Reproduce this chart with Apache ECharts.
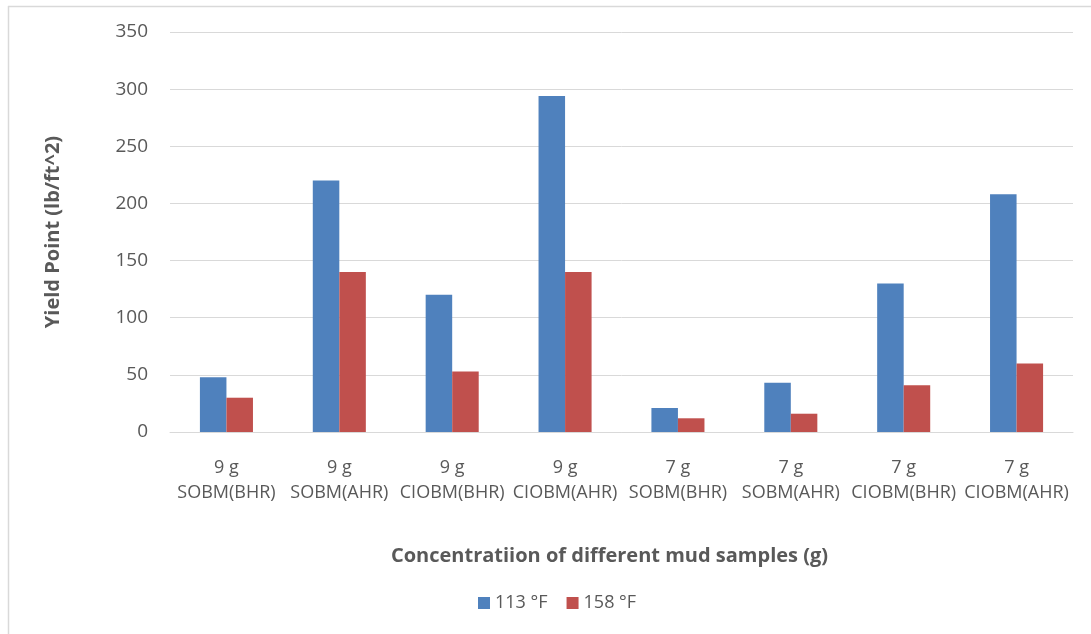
<!DOCTYPE html>
<html>
<head>
<meta charset="utf-8">
<script src="https://cdn.jsdelivr.net/npm/echarts@6/dist/echarts.min.js"></script>
<style>
html,body{margin:0;padding:0;background:#fff;}
#chart{width:1091px;height:634px;}
</style>
</head>
<body>
<div id="chart"></div>
<script>
const categories = ["9 g\nSOBM(BHR)", "9 g\nSOBM(AHR)", "9 g\nCIOBM(BHR)", "9 g\nCIOBM(AHR)", "7 g\nSOBM(BHR)", "7 g\nSOBM(AHR)", "7 g\nCIOBM(BHR)", "7 g\nCIOBM(AHR)"];
const series113 = [48, 220, 120, 294, 21, 43, 130, 208];
const series158 = [30, 140, 53, 140, 12, 16, 41, 60];
const seriesNames = ["113 °F", "158 °F"];
const yTicks = { min: 0, max: 350, interval: 50 };

const FONT = "'Open Sans', 'Liberation Sans', sans-serif";
const TXT = "#595959";
const chart = echarts.init(document.getElementById('chart'), null, { renderer: 'canvas' });
chart.setOption({
  backgroundColor: '#fff',
  animation: false,
  textStyle: { fontFamily: FONT },
  grid: { left: 170, right: 18, top: 32, bottom: 202, containLabel: false },
  legend: {
    data: seriesNames,
    left: 478, top: 594, padding: 0,
    icon: 'rect', itemWidth: 12, itemHeight: 12, itemGap: 19,
    textStyle: { fontFamily: FONT, fontSize: 18, color: TXT }
  },
  xAxis: {
    type: 'category',
    data: categories,
    axisLine: { show: true, lineStyle: { color: '#D9D9D9', width: 1 } },
    axisTick: { show: false },
    axisLabel: { fontFamily: FONT, fontSize: 18, color: TXT, margin: 23, lineHeight: 25, interval: 0 },
    name: 'Concentratiion of different mud samples (g)',
    nameLocation: 'middle',
    nameGap: 124,
    nameTextStyle: { fontFamily: FONT, fontSize: 20, fontWeight: 'bold', color: TXT, verticalAlign: 'middle', padding: [0, 24, 0, 0] }
  },
  yAxis: {
    type: 'value',
    min: yTicks.min, max: yTicks.max, interval: yTicks.interval,
    axisLine: { show: false },
    axisTick: { show: false },
    splitLine: { lineStyle: { color: '#D9D9D9', width: 1 } },
    axisLabel: { fontFamily: FONT, fontSize: 19, color: TXT, margin: 22, padding: [3, 0, 0, 0] },
    name: 'Yield Point (lb/ft^2)',
    nameLocation: 'middle',
    nameGap: 117,
    nameRotate: 90,
    nameTextStyle: { fontFamily: FONT, fontSize: 20, fontWeight: 'bold', color: TXT, verticalAlign: 'middle' }
  },
  series: [
    { name: seriesNames[0], type: 'bar', data: series113, itemStyle: { color: '#4F81BD' }, barGap: '0%', barCategoryGap: '53%' },
    { name: seriesNames[1], type: 'bar', data: series158, itemStyle: { color: '#C0504D' }, barGap: '0%', barCategoryGap: '53%' }
  ],
  graphic: [
    { type: 'line', shape: { x1: 8, y1: 6.5, x2: 1091, y2: 6.5 }, style: { stroke: '#D9D9D9', lineWidth: 1.5 } },
    { type: 'line', shape: { x1: 8.5, y1: 6, x2: 8.5, y2: 634 }, style: { stroke: '#D9D9D9', lineWidth: 1.5 } }
  ]
});
</script>
</body>
</html>
